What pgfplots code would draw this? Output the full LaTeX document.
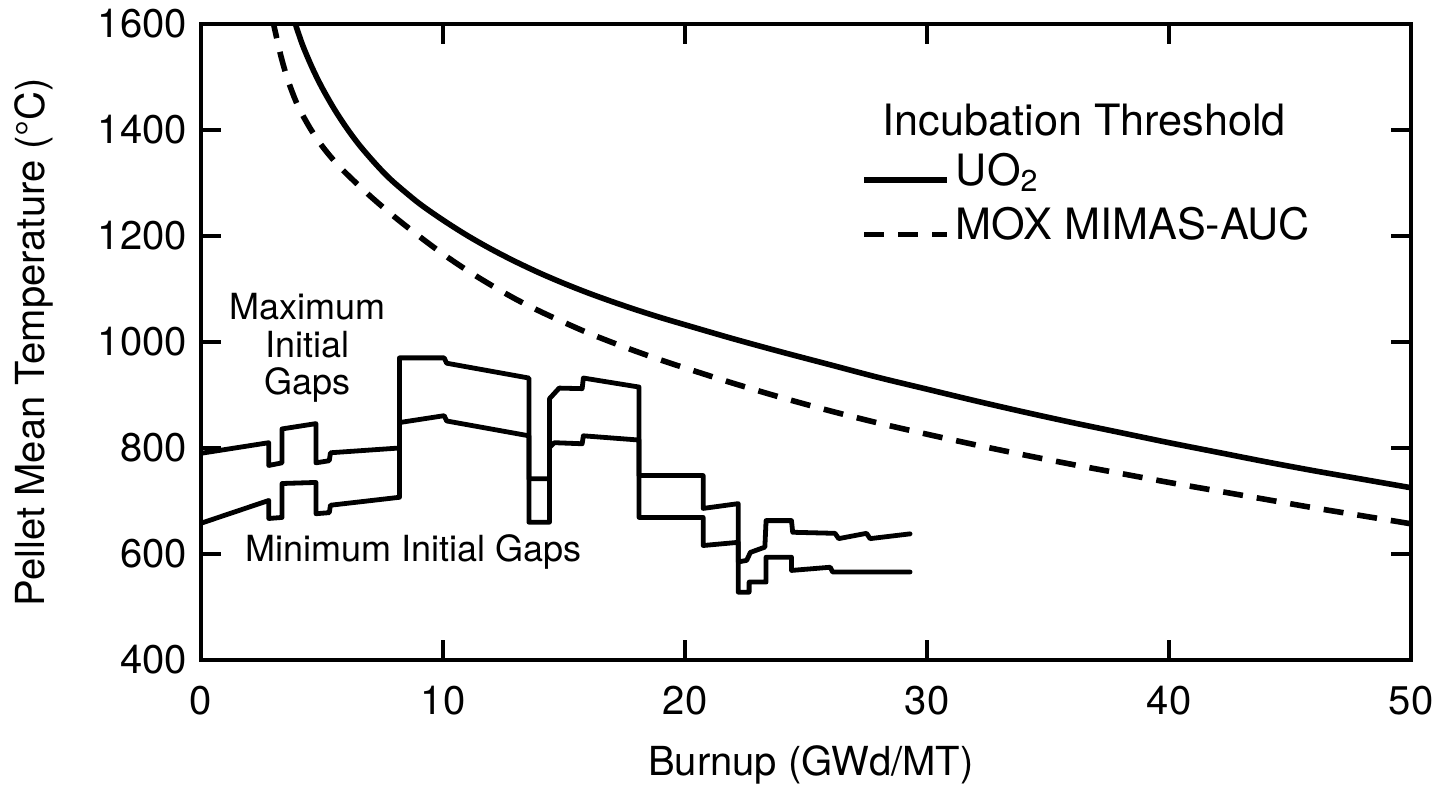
\documentclass[border=0pt]{standalone}
\usepackage{fontspec}
\setmainfont{TeX Gyre Heros}
\usepackage{pgfplots}
\pgfplotsset{compat=1.18}
\begin{document}
\begin{tikzpicture}
\path[use as bounding box] (-50.25pt,-32.75pt) rectangle (308pt,165pt);
\begin{axis}[
  at={(0pt,0pt)}, anchor=south west,
  scale only axis, width=302.5pt, height=159pt,
  xmin=0, xmax=50, ymin=400, ymax=1600,
  xtick={0,10,...,50}, ytick={400,600,...,1600},
  axis line style={line width=1pt},
  major tick length=5pt,
  every tick/.style={black, line width=0.9pt},
  tick align=inside,
  /pgf/number format/assume math mode=true,
  /pgf/number format/1000 sep={},
  ticklabel style={font=\fontsize{10}{12}\selectfont},
  xticklabel style={yshift=-3pt},
  xlabel={Burnup (GWd/MT)},
  ylabel={Pellet Mean Temperature (\textdegree C)},
  label style={font=\fontsize{11}{13}\selectfont},
  every axis x label/.style={at={(axis description cs:0.504,-0.165)}, anchor=center},
  every axis y label/.style={at={(axis description cs:-0.138,0.5)}, anchor=center, rotate=90},
  legend style={at={(axis description cs:0.545,0.808)}, anchor=north west, draw=none, fill=none,
    inner sep=0pt, row sep=1pt, font=\fontsize{10.8}{12}\selectfont, nodes={inner sep=1.5pt}},
  legend cell align=left,
  legend image code/.code={\draw[#1] (0pt,-2pt) -- (20.75pt,-2pt);},
]
% UO2 incubation threshold
\addplot[black, line width=1.4pt, smooth] coordinates {
(3.9,1600)(4.2,1560)(4.6,1517)(5,1480)(5.5,1440)(6,1405)(6.5,1374)(7,1347)(7.5,1322)(8,1300)(9,1262)(10,1230)(11,1201)(12,1175)(13,1151.5)(14,1130)(15,1110.5)(16,1092.5)(17,1076)(18,1060.5)(19,1046)(20,1032.5)(22,1006)(24,981)(26,957)(28,933)(30,911)(32,889)(34,868)(36,848)(38,829)(40,810)(42,792)(44,774)(46,757)(48,741)(50,725)};
\addlegendentry{UO\textsubscript{2}}
% MOX MIMAS-AUC threshold
\addplot[black, line width=1.4pt, dash pattern=on 5pt off 3.5pt, smooth] coordinates {
(2.95,1610)(3.3,1540)(3.6,1493)(4,1446)(4.5,1404)(5,1370)(5.5,1342)(6,1318)(7,1275)(8,1236)(9,1200)(10,1166)(11,1135)(12,1107)(13,1081)(14,1058)(15,1037)(16,1017)(17,999)(18,982)(19,966)(20,951)(22,922)(24,895)(26,870)(28,847)(30,826)(32,806)(34,787)(36,769)(38,752)(40,735)(42,719)(44,703)(46,687)(48,672)(50,657)};
\addlegendentry{MOX MIMAS-AUC}
% Maximum initial gaps
\addplot[black, line width=1.2pt, line join=round, line cap=round, forget plot] coordinates {
(0,790)(2.8,810)(2.8,767)(3.35,772)(3.35,836)(4.75,846)(4.75,772)(5.3,776)(5.35,791)(8.2,800)(8.2,970)(10.05,970)(10.15,960)(13.55,932)(13.55,742)(14.4,742)(14.4,893)(14.8,913)(15.75,912)(15.8,932)(18.1,915)(18.1,748)(20.75,748)(20.75,686)(22.2,695)(22.2,585)(22.55,588)(22.7,603)(23.3,613)(23.35,663)(24.4,663)(24.45,641)(26.2,639)(26.35,629)(27.5,639)(27.65,629)(29.3,638)};
% Minimum initial gaps
\addplot[black, line width=1.2pt, line join=round, line cap=round, forget plot] coordinates {
(0,658)(2.8,701)(2.8,667)(3.35,669)(3.35,733)(4.75,735)(4.75,676)(5.3,678)(5.35,692)(8.2,707)(8.2,848)(10.05,861)(10.15,851)(13.55,823)(13.55,660)(14.4,660)(14.4,801)(14.6,810)(15.75,808)(15.8,823)(18.1,815)(18.1,669)(20.75,669)(20.75,616)(22.2,622)(22.2,528)(22.65,528)(22.65,547)(23.35,547)(23.35,594)(24.4,594)(24.4,569)(26.0,575)(26.1,566)(29.3,566)};
\node[font=\fontsize{10.8}{12}\selectfont, anchor=center] at (axis cs:36.5,1419) {Incubation Threshold};
\node[font=\fontsize{9}{9.4}\selectfont, align=center, anchor=center] at (axis cs:4.42,989) {Maximum\\Initial\\Gaps};
\node[font=\fontsize{9}{10}\selectfont, anchor=center] at (axis cs:8.8,604) {Minimum Initial Gaps};
\end{axis}
\end{tikzpicture}
\end{document}
